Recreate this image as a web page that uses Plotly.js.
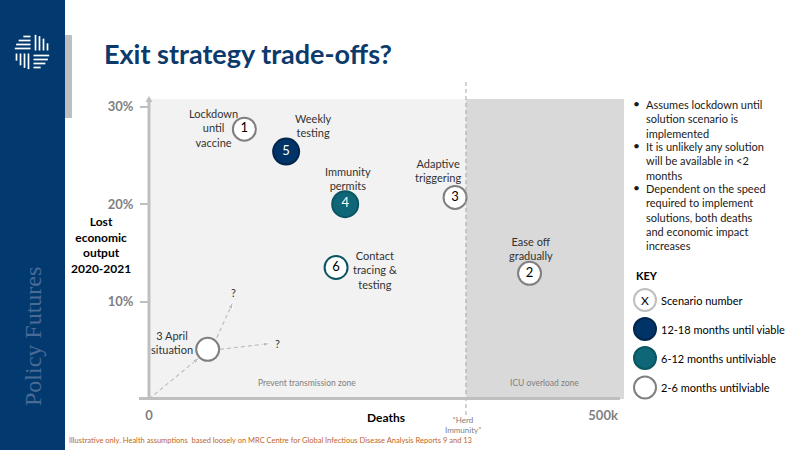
<!DOCTYPE html>
<html><head><meta charset="utf-8">
<script src="https://cdn.plot.ly/plotly-3.0.1.min.js"></script>
<style>html,body{margin:0;padding:0;background:#fff}#chart{width:800px;height:450px}</style>
</head><body><div id="chart"></div>
<script>
// ---------------- DATA ----------------
const scenarioIds = ['1', '2', '3', '4', '5', '6'];
const scenarioNames = ['Lockdown<br>until<br>vaccine', 'Ease off<br>gradually', 'Adaptive<br>triggering',
                       'Immunity<br>permits', 'Weekly<br>testing', 'Contact<br>tracing &<br>testing'];
const deathsK = [105, 419, 337, 216, 151, 206];           // deaths (thousands)
const lostOutputPct = [27.7, 12.9, 20.7, 20.0, 25.4, 13.5]; // lost economic output 2020-2021 (%)
const viability = ['2-6', '2-6', '2-6', '6-12', '12-18', '6-12 outline'];

const currentName = '3 April<br>situation';
const currentDeathsK = [64.6];
const currentLostPct = [5.1];

// dashed "direction" arrows (start -> end, data units)
const arrowStartX = [0, 74.6, 78.2];
const arrowStartY = [0, 6.3, 5.1];
const arrowEndX = [56, 92.8, 134];
const arrowEndY = [4.3, 10.0, 5.7];
const arrowLabels = ['', '?', '?'];

const herdImmunityK = 349;
const xMaxK = 523;
const yMaxPct = 30.8;
const yTicks = [10, 20, 30];
const yTickText = ['10%', '20%', '30%'];
const xTicks = [0, 500];
const xTickText = ['0', '500k'];

const zoneNames = ['Prevent transmission zone', 'ICU overload zone'];
const keyLabels = ['Scenario number', '12-18 months until viable', '6-12 months untilviable', '2-6 months untilviable'];
const bullets = [
  'Assumes lockdown until<br>solution scenario is<br>implemented',
  'It is unlikely any solution<br>will be available in <2<br>months',
  'Dependent on the speed<br>required to implement<br>solutions, both deaths<br>and economic impact<br>increases'
];

// ---------------- STYLES ----------------
const NAVY = '#003468', TEAL = '#0e6677', GREY = '#808080';
const styleFor = {
  '2-6':  {fill: '#ffffff', line: GREY, text: '#000000'},
  '6-12': {fill: TEAL, line: '#0b5563', text: '#ffffff'},
  '12-18': {fill: NAVY, line: '#00264d', text: '#ffffff'},
  '6-12 outline': {fill: '#ffffff', line: '#0b5563', text: '#000000'}
};
// label offsets (px) relative to each scenario marker
const labelShift = [[-31, 1], [1, 25], [-17, 27], [3, 26], [27, 26], [39, -2]];

const FONT = 'Lato, "Open Sans", sans-serif';
const L = 149, T = 99, W = 475, H = 300;
const px = x => (x - L) / W;
const py = y => (T + H - y) / H;

// ---------------- TRACES ----------------
const traces = [];
arrowStartX.forEach((x0, i) => {
  traces.push({
    x: [x0, arrowEndX[i]], y: [arrowStartY[i], arrowEndY[i]],
    mode: 'lines+markers', type: 'scatter', hoverinfo: 'skip',
    line: {color: '#bfbfbf', width: 1.2, dash: '4px,3px'},
    marker: {symbol: 'arrow', angleref: 'previous', size: [0, 8], color: '#bfbfbf', opacity: 1}
  });
});
traces.push({
  x: currentDeathsK, y: currentLostPct, mode: 'markers', type: 'scatter', hoverinfo: 'skip',
  marker: {size: 23, color: '#ffffff', opacity: 1, line: {color: GREY, width: 2}}
});
traces.push({
  x: deathsK, y: lostOutputPct, mode: 'markers+text', type: 'scatter', hoverinfo: 'skip',
  text: scenarioIds, textposition: 'middle center',
  textfont: {family: FONT, size: 13, color: viability.map(v => styleFor[v].text)},
  marker: {size: viability.map(v => v === '2-6' || v === '6-12 outline' ? 23 : 26), opacity: 1,
           color: viability.map(v => styleFor[v].fill),
           line: {color: viability.map(v => styleFor[v].line), width: 2}}
});

// ---------------- SHAPES ----------------
const shapes = [
  {type: 'rect', xref: 'x', yref: 'paper', x0: 0, x1: herdImmunityK, y0: 0, y1: 1, fillcolor: '#f2f2f2', line: {width: 0}, layer: 'below'},
  {type: 'rect', xref: 'x', yref: 'paper', x0: herdImmunityK, x1: xMaxK, y0: 0, y1: 1, fillcolor: '#d9d9d9', line: {width: 0}, layer: 'below'},
  {type: 'line', xref: 'x', yref: 'paper', x0: herdImmunityK, x1: herdImmunityK, y0: py(415), y1: py(80), line: {color: '#a6a6a6', width: 1, dash: '4px,3px'}},
  {type: 'line', xref: 'paper', yref: 'paper', x0: px(139), x1: px(620), y0: py(398.5), y1: py(398.5), line: {color: '#bfbfbf', width: 3}},
  {type: 'line', xref: 'paper', yref: 'paper', x0: px(149), x1: px(149), y0: py(399), y1: py(101), line: {color: '#bfbfbf', width: 3}},
  {type: 'path', xref: 'paper', yref: 'paper', path: `M${px(149)},${py(96)} L${px(145.5)},${py(102)} L${px(152.5)},${py(102)} Z`, fillcolor: '#bfbfbf', line: {width: 0}},
  {type: 'rect', xref: 'paper', yref: 'paper', x0: px(0), x1: px(65), y0: py(450), y1: py(0), fillcolor: '#023a70', line: {width: 0}},
  {type: 'rect', xref: 'paper', yref: 'paper', x0: px(65), x1: px(72), y0: py(118), y1: py(35), fillcolor: '#bfbfbf', line: {width: 0}}
];
// logo: woven circle
(function () {
  const cx = 32, cy = 52, r = 18;
  const seg = (x0, y0, x1, y1) => shapes.push({type: 'line', xref: 'paper', yref: 'paper',
    x0: px(x0), x1: px(x1), y0: py(y0), y1: py(y1), line: {color: '#ffffff', width: 1.7}});
  const half = d => Math.sqrt(Math.max(r * r - d * d, 0));
  [36.5, 40.5, 44.5, 48.5].forEach(y => { const h = half(y - cy); seg(cx - h + 0.5, y, cx - 1.5, y); });
  [55.5, 59.5, 63.5, 67.5].forEach(y => { const h = half(y - cy); seg(cx + 1.5, y, cx + h - 0.5, y); });
  [35.5, 39.5, 43.5, 47.5].forEach(x => { const h = half(x - cx); seg(x, cy - h + 0.5, x, cy - 1.5); });
  [16.5, 20.5, 24.5, 28.5].forEach(x => { const h = half(x - cx); seg(x, cy + 1.5, x, cy + h - 0.5); });
})();
// key circles
const keyY = [300, 329, 358, 387.5];
const keyStyles = [{fill: '#ffffff', line: '#bfbfbf'}, {fill: NAVY, line: '#00264d'}, {fill: TEAL, line: '#0b5563'}, {fill: '#ffffff', line: GREY}];
keyY.forEach((y, i) => shapes.push({type: 'circle', xref: 'paper', yref: 'paper',
  x0: px(634), x1: px(656), y0: py(y + 11), y1: py(y - 11),
  fillcolor: keyStyles[i].fill, line: {color: keyStyles[i].line, width: 2}}));

// ---------------- ANNOTATIONS ----------------
const ann = [];
const pA = (x, y, text, o = {}) => ann.push(Object.assign({xref: 'paper', yref: 'paper', x: px(x), y: py(y), text, showarrow: false,
  xanchor: 'center', yanchor: 'middle', font: {family: FONT, size: 11, color: '#000000'}}, o));
const labelFont = {family: FONT, size: 11, color: '#333333'};

scenarioNames.forEach((n, i) => ann.push({x: deathsK[i], y: lostOutputPct[i], xref: 'x', yref: 'y', text: n, showarrow: false,
  xanchor: 'center', yanchor: 'middle', xshift: labelShift[i][0], yshift: labelShift[i][1], align: 'center', font: labelFont}));
ann.push({x: currentDeathsK[0], y: currentLostPct[0], xref: 'x', yref: 'y', text: currentName, showarrow: false,
  xanchor: 'center', yanchor: 'middle', xshift: -36, yshift: 7, align: 'center', font: labelFont});
arrowLabels.forEach((t, i) => { if (t) ann.push({x: arrowEndX[i], y: arrowEndY[i], xref: 'x', yref: 'y', text: t, showarrow: false,
  xanchor: 'center', yanchor: 'middle', xshift: i === 1 ? 0 : 7, yshift: i === 1 ? 9 : 0, font: labelFont}); });
// zone labels
const zoneFont = {family: FONT, size: 8.5, color: '#808080'};
ann.push({x: herdImmunityK / 2, y: 0, xref: 'x', yref: 'y', xanchor: 'center', yanchor: 'middle', yshift: 16, text: zoneNames[0], showarrow: false, font: zoneFont});
ann.push({x: (herdImmunityK + xMaxK) / 2, y: 0, xref: 'x', yref: 'y', xanchor: 'center', yanchor: 'middle', yshift: 16, text: zoneNames[1], showarrow: false, font: zoneFont});
ann.push({x: herdImmunityK, y: 0, xref: 'x', yref: 'y', xanchor: 'center', yanchor: 'middle', yshift: -26, xshift: -3, text: '“Herd<br>Immunity”', showarrow: false,
  font: {family: FONT, size: 8, color: '#808080'}});

// axis titles
pA(101, 245, 'Lost<br>economic<br>output<br>2020-2021', {font: {family: FONT, size: 12, color: '#000000', weight: 'bold'}});
pA(386, 417, 'Deaths', {font: {family: FONT, size: 12, color: '#000000', weight: 'bold'}});

// title & side
pA(102, 53, 'Exit strategy trade-offs?', {xanchor: 'left', font: {family: FONT, size: 27, color: '#0b3a6b', weight: 'bold'}});
pA(33, 337, 'Policy Futures', {textangle: -90, font: {family: '"Liberation Serif", "DejaVu Serif", serif', size: 24, color: '#4a6b96'}});
pA(67, 440, 'Illustrative only. Health assumptions  based loosely on MRC Centre for Global Infectious Disease Analysis Reports 9 and 13',
  {xanchor: 'left', font: {family: FONT, size: 7.5, color: '#c0651f'}});

// bullets
const bulletTop = [103.3, 145.3, 187.3];
bullets.forEach((b, i) => {
  pA(636, bulletTop[i], '•', {font: {family: FONT, size: 12, color: '#1a1a1a'}});
  pA(644, bulletTop[i] - 7.5, b, {xanchor: 'left', yanchor: 'top', align: 'left', font: {family: FONT, size: 11, color: '#1a1a1a'}});
});
// key
pA(634, 275, 'KEY', {xanchor: 'left', font: {family: FONT, size: 11, color: '#000000', weight: 'bold'}});
pA(645, 300, 'X', {font: {family: FONT, size: 12, color: '#000000'}});
keyLabels.forEach((k, i) => pA(659, keyY[i], k, {xanchor: 'left', font: {family: FONT, size: 11, color: '#000000'}}));

const layout = {
  width: 800, height: 450,
  margin: {l: L, r: 800 - L - W, t: T, b: 450 - T - H, pad: 0},
  paper_bgcolor: '#ffffff', plot_bgcolor: 'rgba(0,0,0,0)',
  showlegend: false, hovermode: false,
  xaxis: {range: [0, xMaxK], tickvals: xTicks, ticktext: xTickText, ticks: '', showgrid: false, zeroline: false, showline: false,
          ticklabelstandoff: 7, tickfont: {family: FONT, size: 13, color: '#7f7f7f', weight: 'bold'}, fixedrange: true},
  yaxis: {range: [0, yMaxPct], tickvals: yTicks, ticktext: yTickText, ticks: 'outside', ticklen: 8, tickwidth: 2, tickcolor: '#bfbfbf',
          showgrid: false, zeroline: false, showline: false, ticklabelstandoff: 4,
          tickfont: {family: FONT, size: 13, color: '#7f7f7f', weight: 'bold'}, fixedrange: true},
  shapes, annotations: ann
};
Plotly.newPlot('chart', traces, layout, {staticPlot: true, displayModeBar: false});
</script></body></html>
